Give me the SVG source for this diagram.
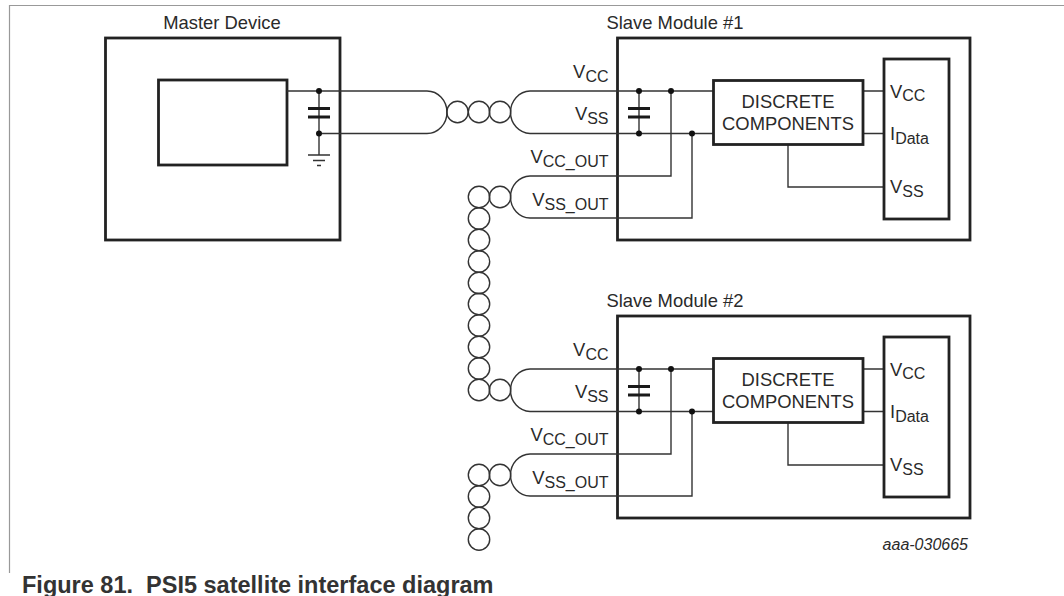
<svg xmlns="http://www.w3.org/2000/svg" xmlns:xlink="http://www.w3.org/1999/xlink" width="1064" height="596" viewBox="0 0 1064 596">
<style>
text{font-family:"Liberation Sans",Arial,sans-serif;fill:#2a2a2a;font-size:18.4px}
.s{font-size:16px}
.thick{fill:#fff;stroke:#222;stroke-width:2.8}
.w{fill:none;stroke:#333;stroke-width:1.4}
.d{fill:#111}
.p{fill:none;stroke:#1a1a1a;stroke-width:3}
.e{text-anchor:end}
</style>
<defs>
<g id="cap"><path class="w" d="M0 0V42.500"/><path class="p" d="M-11 17.500H11M-11 26H11"/><circle class="d" cx="0" cy="0" r="3"/><circle class="d" cx="0" cy="42.500" r="3"/></g>
<circle id="c" r="10.700" class="w"/>
</defs>
<rect width="1064" height="596" fill="#fff"/>
<path d="M9.500 573V5.500H1064" fill="none" stroke="#999" stroke-width="1.200"/>
<g id="master">
<text x="222" y="29" text-anchor="middle">Master Device</text>
<rect class="thick" x="105.500" y="38" width="234.500" height="202"/>
<rect class="thick" x="158.500" y="80" width="128.500" height="85"/>
</g>
<g id="slave1">
<text x="675" y="29" text-anchor="middle" id="s1">Slave Module #1</text>
<rect class="thick" x="617.500" y="38" width="352.500" height="202"/>
</g>
<g id="slave2">
<text x="675" y="307" text-anchor="middle">Slave Module #2</text>
<rect class="thick" x="617.500" y="316" width="352.500" height="202"/>
</g>
<g id="connectors">
<path class="w" d="M287 91H427A20 21.250 0 0 1 447 112.250A20 21.250 0 0 1 427 133.500H319"/>
<path class="w" d="M319 133.500V155M308 155H330M313 160.500H325M317 165.500H321"/>
<use xlink:href="#cap" href="#cap" x="319" y="91"/>
<g id="twist">
<use href="#c" x="457.500" y="112"/><use href="#c" x="479" y="112"/><use href="#c" x="500" y="112"/>
<use href="#c" x="500" y="197"/>
<use href="#c" x="479" y="197"/><use href="#c" x="479" y="218.500"/><use href="#c" x="479" y="240"/><use href="#c" x="479" y="261.500"/><use href="#c" x="479" y="283"/><use href="#c" x="479" y="304"/><use href="#c" x="479" y="325.500"/><use href="#c" x="479" y="347"/><use href="#c" x="479" y="368.500"/><use href="#c" x="479" y="390"/>
<use href="#c" x="500" y="390"/>
<use href="#c" x="479" y="475"/><use href="#c" x="479" y="496.500"/><use href="#c" x="479" y="518"/><use href="#c" x="479" y="539.500"/>
<use href="#c" x="500" y="475"/>
</g>
<g id="w1">
<path class="w" d="M713 91H530A20 21.250 0 0 0 510.500 112.250A20 21.250 0 0 0 530 133.500H713"/>
<path class="w" d="M671 91V176H530A20 21 0 0 0 510.500 197A20 21 0 0 0 530 218H692V133.500"/>
<circle class="d" cx="671" cy="91" r="3"/><circle class="d" cx="692" cy="133.500" r="3"/>
<use href="#cap" x="639" y="91"/>
<path class="w" d="M863 91H884M863 133.500H884M788 144V187H884"/>
</g>
<g id="w2" transform="translate(0 278)">
<path class="w" d="M713 91H530A20 21.250 0 0 0 510.500 112.250A20 21.250 0 0 0 530 133.500H713"/>
<path class="w" d="M671 91V176H530A20 21 0 0 0 510.500 197A20 21 0 0 0 530 218H692V133.500"/>
<circle class="d" cx="671" cy="91" r="3"/><circle class="d" cx="692" cy="133.500" r="3"/>
<use href="#cap" x="639" y="91"/>
<path class="w" d="M863 91H884M863 133.500H884M788 144V187H884"/>
</g>
</g>
<g id="labels1">
<text class="e" x="608.500" y="78">V<tspan class="s" dy="3.700">CC</tspan></text>
<text class="e" x="608.500" y="120">V<tspan class="s" dy="3.500">SS</tspan></text>
<text class="e" x="608.500" y="163">V<tspan class="s" dy="4">CC_OUT</tspan></text>
<text class="e" x="608.500" y="205.500">V<tspan class="s" dy="4.500">SS_OUT</tspan></text>
</g>
<g id="labels2" transform="translate(0 278)">
<text class="e" x="608.500" y="78">V<tspan class="s" dy="3.700">CC</tspan></text>
<text class="e" x="608.500" y="120">V<tspan class="s" dy="3.500">SS</tspan></text>
<text class="e" x="608.500" y="163">V<tspan class="s" dy="4">CC_OUT</tspan></text>
<text class="e" x="608.500" y="205.500">V<tspan class="s" dy="4.500">SS_OUT</tspan></text>
</g>
<g id="discrete1">
<rect class="thick" x="713.500" y="80.500" width="149.500" height="64"/>
<text x="788" y="108" text-anchor="middle">DISCRETE</text>
<text x="788" y="130" text-anchor="middle">COMPONENTS</text>
</g>
<g id="ic1">
<rect class="thick" x="884" y="59" width="65" height="160"/>
<text x="890" y="97.500">V<tspan class="s" dy="3.500">CC</tspan></text>
<text x="890" y="140">I<tspan class="s" dy="3.500">Data</tspan></text>
<text x="890" y="193">V<tspan class="s" dy="3.500">SS</tspan></text>
</g>
<g id="discrete2" transform="translate(0 278)">
<rect class="thick" x="713.500" y="80.500" width="149.500" height="64"/>
<text x="788" y="108" text-anchor="middle">DISCRETE</text>
<text x="788" y="130" text-anchor="middle">COMPONENTS</text>
</g>
<g id="ic2" transform="translate(0 278)">
<rect class="thick" x="884" y="59" width="65" height="160"/>
<text x="890" y="97.500">V<tspan class="s" dy="3.500">CC</tspan></text>
<text x="890" y="140">I<tspan class="s" dy="3.500">Data</tspan></text>
<text x="890" y="193">V<tspan class="s" dy="3.500">SS</tspan></text>
</g>
<text x="968" y="550" text-anchor="end" font-style="italic" style="font-size:16px">aaa-030665</text>
<text x="22" y="593" font-weight="bold" style="font-size:23.5px;fill:#333" xml:space="preserve">Figure 81.  PSI5 satellite interface diagram</text>
</svg>
